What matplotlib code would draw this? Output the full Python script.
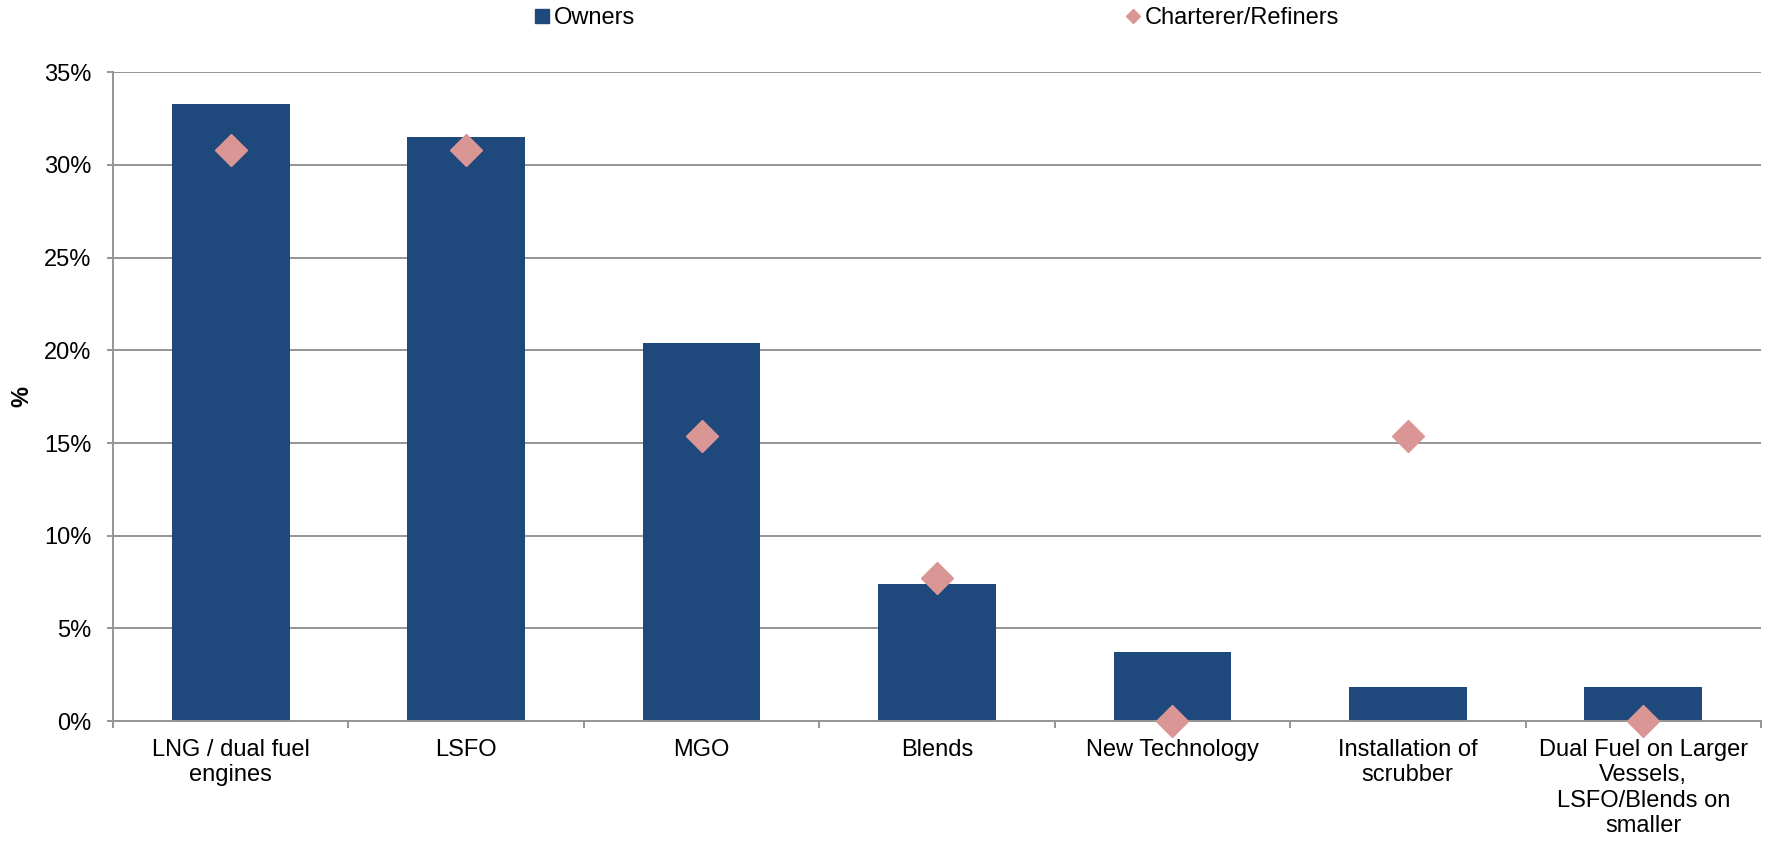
import numpy as np
import matplotlib
matplotlib.use("Agg")
import matplotlib.pyplot as plt
from matplotlib.lines import Line2D
from matplotlib.ticker import PercentFormatter

plt.rcParams['font.family'] = ['Liberation Sans', 'DejaVu Sans']

# survey answers, share of respondents in %
categories = [
    "LNG / dual fuel\nengines",
    "LSFO",
    "MGO",
    "Blends",
    "New Technology",
    "Installation of\nscrubber",
    "Dual Fuel on Larger\nVessels,\nLSFO/Blends on\nsmaller",
]
owners = [33.3, 31.5, 20.4, 7.4, 3.7, 1.85, 1.85]
charterers = [30.8, 30.8, 15.4, 7.7, 0.0, 15.4, 0.0]
yticks = [0, 5, 10, 15, 20, 25, 30, 35]

bar_color = "#1F497D"
diamond_color = "#D99694"
grid_color = "#959595"
fs = 17

fig = plt.figure(figsize=(17.68, 8.43), dpi=100)
ax = fig.add_axes([0.0639, 0.1447, 0.9321, 0.7695])

x = np.arange(len(categories))
ax.bar(x, owners, width=0.5, color=bar_color, zorder=2)
ax.plot(x, charterers, linestyle="none", marker="D", markersize=16,
        color=diamond_color, zorder=3, clip_on=False)

ax.set_xlim(-0.5, len(categories) - 0.5)
ax.set_ylim(0, 35)
ax.set_yticks(yticks)
ax.yaxis.set_major_formatter(PercentFormatter(decimals=0))
ax.grid(axis="y", color=grid_color, linewidth=1.4, zorder=0)
ax.set_axisbelow(True)

ax.set_xticks(x)
ax.set_xticklabels(categories, fontsize=fs, linespacing=1.2)
ax.set_xticks(np.arange(-0.5, len(categories)), minor=True)
ax.tick_params(axis="x", which="major", length=0, pad=13)
ax.tick_params(axis="x", which="minor", length=5, width=1.4, color=grid_color)
ax.tick_params(axis="y", length=4.5, width=1.4, color=grid_color, pad=11, labelsize=fs)

for side in ("top", "right"):
    ax.spines[side].set_visible(False)
for side in ("left", "bottom"):
    ax.spines[side].set_color(grid_color)
    ax.spines[side].set_linewidth(1.4)

ax.set_ylabel("%", fontsize=fs, fontweight="bold", labelpad=8)

handles = [
    Line2D([], [], linestyle="none", marker="s", markersize=9.5, color=bar_color),
    Line2D([], [], linestyle="none", marker="D", markersize=7, color=diamond_color),
]
ax.legend(handles, ["Owners", "Charterer/Refiners"], loc="center",
          bbox_to_anchor=(0.5, 1.084), ncol=2, frameon=False, fontsize=fs,
          handlelength=0.6, handletextpad=0.2, columnspacing=20.8)

fig.savefig("out.png", dpi=100)
